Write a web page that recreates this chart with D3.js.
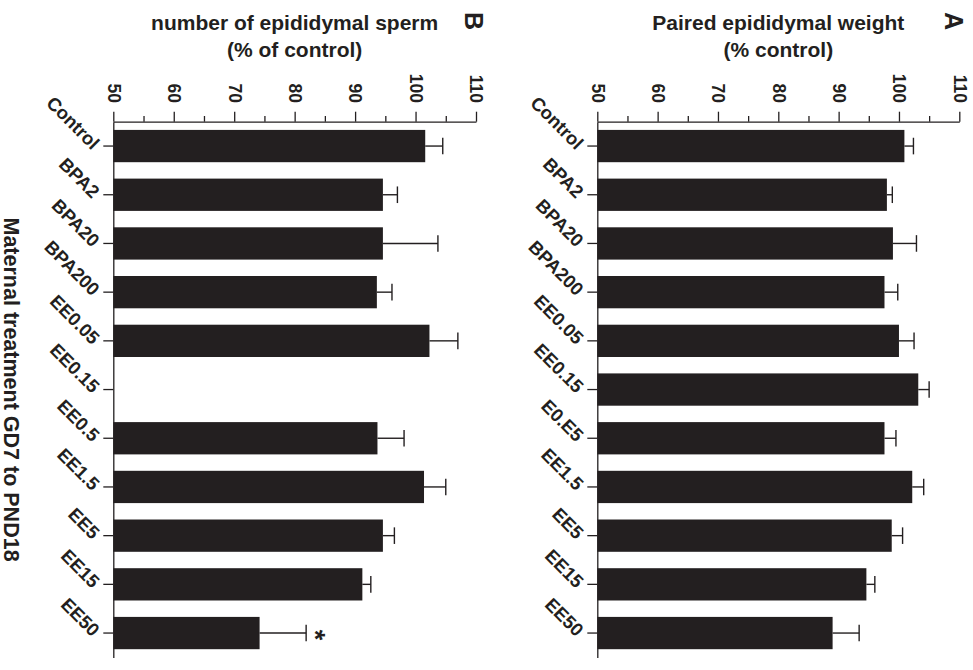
<!DOCTYPE html>
<meta charset="utf-8">
<style>
* { margin: 0; padding: 0; }
body { background: #fff; }
svg text { font-family: "Liberation Sans", Arial, sans-serif; font-weight: bold; fill: #231f20; }
.axis path, .axis line { stroke: #231f20; stroke-width: 1.3px; }
.bar { fill: #231f20; }
.err { stroke: #231f20; stroke-width: 1.4px; fill: none; }
</style>
<body>
<script src="https://cdn.jsdelivr.net/npm/d3@7"></script>
<script>

// categories (panel A has the "E0.E5" label as printed in the figure)
var categoriesA = ["Control", "BPA2", "BPA20", "BPA200", "EE0.05", "EE0.15", "E0.E5", "EE1.5", "EE5", "EE15", "EE50"];
var categoriesB = ["Control", "BPA2", "BPA20", "BPA200", "EE0.05", "EE0.15", "EE0.5", "EE1.5", "EE5", "EE15", "EE50"];

// A: paired epididymal weight (% control), mean and SEM
var weightMean = [100.9, 98.0, 99.0, 97.6, 100.0, 103.2, 97.6, 102.2, 98.8, 94.6, 89.0];
var weightSem  = [1.5, 0.9, 3.9, 2.2, 2.5, 1.8, 1.9, 1.9, 1.8, 1.4, 4.4];

// B: number of epididymal sperm (% of control), EE0.15 missing
var spermMean = [101.6, 94.6, 94.6, 93.6, 102.3, null, 93.7, 101.4, 94.6, 91.2, 74.2];
var spermSem  = [2.9, 2.4, 9.1, 2.5, 4.7, null, 4.4, 3.6, 1.9, 1.4, 7.7];
var spermSig  = ["", "", "", "", "", "", "", "", "", "", "*"];

var valueTicks = [50, 60, 70, 80, 90, 100, 110];
var minorTicks = [55, 65, 75, 85, 95, 105];

var width = 973,
    height = 670,
    axisY = 121.7,
    bottomY = 657.4;

var svg = d3.select("body").append("svg")
    .attr("width", width)
    .attr("height", height);

var panels = [
	{ id: "A", cats: categoriesA, mean: weightMean, sem: weightSem, sig: null,
	  x0: 597.3, x1: 959.3, title: ["Paired epididymal weight", "(% control)"], labelX: 954 },
	{ id: "B", cats: categoriesB, mean: spermMean, sem: spermSem, sig: spermSig,
	  x0: 113.3, x1: 476, title: ["number of epididymal sperm", "(% of control)"], labelX: 474 }
];

panels.forEach(function(p) {

	var x = d3.scaleLinear().domain([50, 110]).range([p.x0, p.x1]);
	var y = d3.scaleBand().domain(p.cats).range([axisY, bottomY])
		.paddingInner(0.337).paddingOuter(0.1685);

	var g = svg.append("g");

	// minor ticks on value axis
	g.append("g")
	    .attr("class", "axis")
	    .attr("transform", "translate(0," + axisY + ")")
	    .call(d3.axisTop(x).tickValues(minorTicks).tickSize(5.7).tickSizeOuter(0).tickFormat(""))
	    .call(function(a) { a.select(".domain").remove(); });

	// value axis
	var xa = g.append("g")
	    .attr("class", "axis")
	    .attr("transform", "translate(0," + axisY + ")")
	    .call(d3.axisTop(x).tickValues(valueTicks).tickSize(10).tickSizeOuter(0));

	xa.selectAll("text")
	    .attr("x", 0).attr("y", 0).attr("dy", "0.35em")
	    .attr("text-anchor", "end")
	    .attr("transform", "translate(0,-18.7) rotate(90)")
	    .style("font-size", "17.5px");

	// category axis
	var ya = g.append("g")
	    .attr("class", "axis")
	    .attr("transform", "translate(" + p.x0 + ",0)")
	    .call(d3.axisLeft(y).tickSize(10).tickSizeOuter(0));

	ya.selectAll("text")
	    .attr("x", 0).attr("y", 0).attr("dy", "0.35em")
	    .attr("text-anchor", "end")
	    .attr("transform", "translate(-17,0) rotate(45)")
	    .style("font-size", "18.5px");

	var rows = p.cats.map(function(c, i) {
		return { cat: c, mean: p.mean[i], sem: p.sem[i], sig: p.sig ? p.sig[i] : "" };
	}).filter(function(d) { return d.mean != null; });

	// error bars (upper half only)
	rows.forEach(function(d) {
		var cy = y(d.cat) + y.bandwidth() / 2;
		var xe = x(d.mean + d.sem);
		g.append("line").attr("class", "err")
		    .attr("x1", x(d.mean)).attr("x2", xe)
		    .attr("y1", cy).attr("y2", cy);
		g.append("line").attr("class", "err")
		    .attr("x1", xe).attr("x2", xe)
		    .attr("y1", cy - 8.3).attr("y2", cy + 8.3);
		if (d.sig) {
			g.append("text")
			    .attr("transform", "translate(" + (xe + 20) + "," + (cy + 2) + ") rotate(90)")
			    .attr("text-anchor", "middle")
			    .attr("dy", "0.75em")
			    .style("font-size", "27px")
			    .text(d.sig);
		}
	});

	// bars
	g.selectAll("rect.bar")
	    .data(rows)
	  .enter().append("rect")
	    .attr("class", "bar")
	    .attr("x", x(50))
	    .attr("y", function(d) { return y(d.cat); })
	    .attr("width", function(d) { return x(d.mean) - x(50); })
	    .attr("height", y.bandwidth());

	// axis title
	var cx = (p.x0 + p.x1) / 2;
	g.append("text").attr("x", cx).attr("y", 30)
	    .attr("text-anchor", "middle").style("font-size", "21px").text(p.title[0]);
	g.append("text").attr("x", cx).attr("y", 57)
	    .attr("text-anchor", "middle").style("font-size", "21px").text(p.title[1]);

	// panel letter
	g.append("text")
	    .attr("transform", "translate(" + p.labelX + ",21) rotate(90)")
	    .attr("text-anchor", "middle")
	    .attr("dy", "0.35em")
	    .style("font-size", "25px")
	    .text(p.id);
});

// shared category title
svg.append("text")
    .attr("transform", "translate(11.5," + ((axisY + bottomY) / 2) + ") rotate(90)")
    .attr("text-anchor", "middle")
    .attr("dy", "0.35em")
    .style("font-size", "21.5px")
    .text("Maternal treatment GD7 to PND18");

</script>
